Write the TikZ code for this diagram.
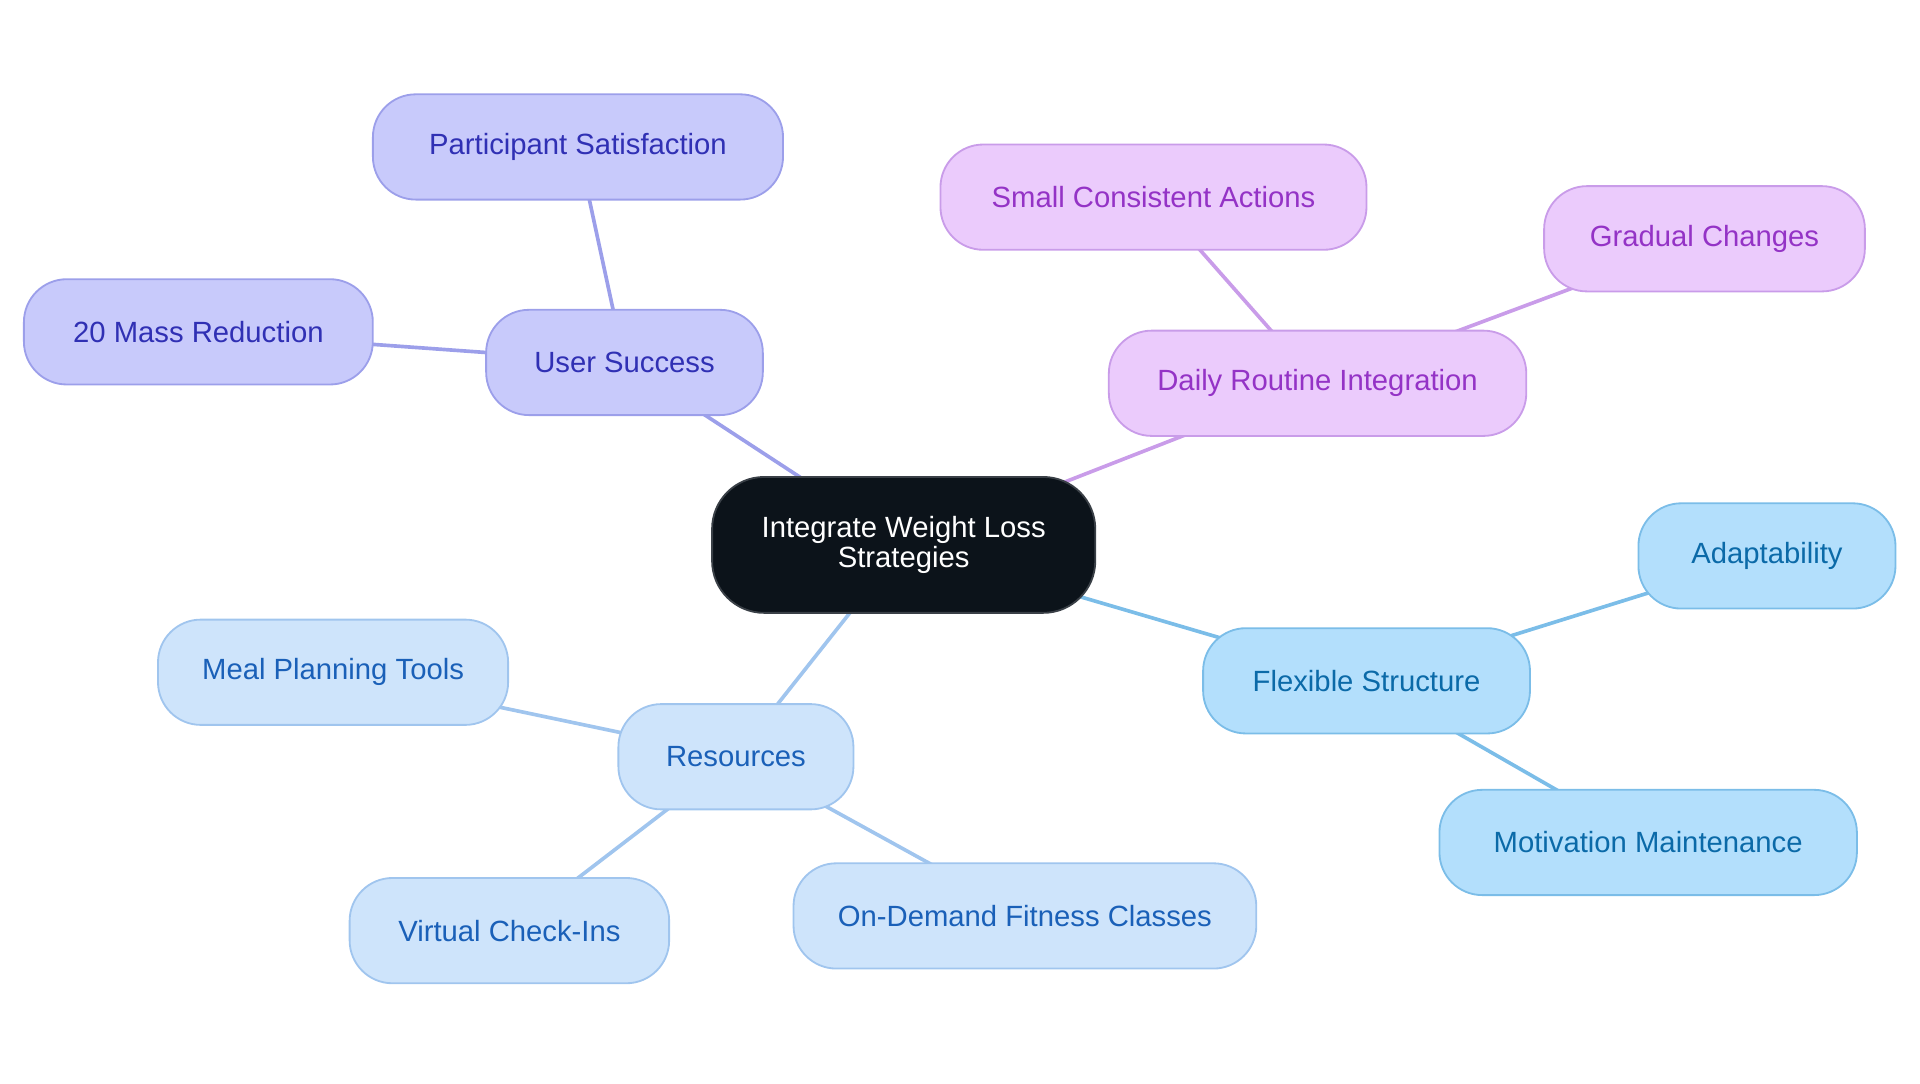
\documentclass[tikz,border=0pt]{standalone}
\usepackage{fontspec}
\setmainfont{Liberation Sans}
\usepackage{tikz}
\usetikzlibrary{backgrounds}

\definecolor{hubfill}{HTML}{0C131A}
\definecolor{hubline}{HTML}{3A4047}
\definecolor{succfill}{HTML}{C8CAFB}
\definecolor{succline}{HTML}{9C9FEA}
\definecolor{succtext}{HTML}{3030B4}
\definecolor{dailyfill}{HTML}{EBCBFC}
\definecolor{dailyline}{HTML}{C99CE9}
\definecolor{dailytext}{HTML}{9433C6}
\definecolor{flexfill}{HTML}{B3DFFC}
\definecolor{flexline}{HTML}{7BBDE8}
\definecolor{flextext}{HTML}{0B6AA8}
\definecolor{resfill}{HTML}{CEE4FB}
\definecolor{resline}{HTML}{A0C5EE}
\definecolor{restext}{HTML}{1A60B8}

\tikzset{
	topic/.style={draw, rounded corners=0.7cm, minimum height=1.72cm, line width=0.85pt, align=center, font=\fontsize{13.6}{14.2}\selectfont},
	hub/.style={topic, rounded corners=0.85cm, minimum height=2.22cm, fill=hubfill, draw=hubline, text=white},
	success/.style={topic, fill=succfill, draw=succline, text=succtext},
	daily/.style={topic, fill=dailyfill, draw=dailyline, text=dailytext},
	flex/.style={topic, fill=flexfill, draw=flexline, text=flextext},
	res/.style={topic, fill=resfill, draw=resline, text=restext},
	link/.style={line width=1.7pt}
}

\begin{document}
\begin{tikzpicture}[x=0.02cm,y=-0.02cm]
\useasboundingbox (0,0) rectangle (1568,884.5);
\node[hub, minimum width=6.26cm] (hub) at (738,445) {Integrate Weight Loss\\Strategies};

	\node[success, minimum width=4.52cm] (us) at (510,296) {User Success};
	\node[success, minimum width=6.7cm] (ps) at (472,120) {Participant Satisfaction};
	\node[success, minimum width=5.7cm] (mass) at (162,271) {20 Mass Reduction};

	\node[daily, minimum width=6.82cm] (dri) at (1076,313) {Daily Routine Integration};
	\node[daily, minimum width=6.96cm] (sca) at (942,161) {Small Consistent Actions};
	\node[daily, minimum width=5.24cm] (gc) at (1392,195) {Gradual Changes};

	\node[flex, minimum width=5.34cm] (fs) at (1116,556) {Flexible Structure};
	\node[flex, minimum width=4.2cm] (ad) at (1443,454) {Adaptability};
	\node[flex, minimum width=6.82cm] (mm) at (1346,688) {Motivation Maintenance};

	\node[res, minimum width=3.84cm] (res) at (601,618) {Resources};
	\node[res, minimum width=5.72cm] (mpt) at (272,549) {Meal Planning Tools};
	\node[res, minimum width=5.22cm] (vci) at (416,760) {Virtual Check-Ins};
	\node[res, minimum width=7.56cm] (odf) at (837,748) {On-Demand Fitness Classes};

\begin{scope}[on background layer]
	\draw[link, succline] (hub.center) -- (us.center);
	\draw[link, succline] (us.center) -- (ps.center);
	\draw[link, succline] (us.center) -- (mass.center);
	\draw[link, dailyline] (hub.center) -- (dri.center);
	\draw[link, dailyline] (dri.center) -- (sca.center);
	\draw[link, dailyline] (dri.center) -- (gc.center);
	\draw[link, flexline] (hub.center) -- (fs.center);
	\draw[link, flexline] (fs.center) -- (ad.center);
	\draw[link, flexline] (fs.center) -- (mm.center);
	\draw[link, resline] (hub.center) -- (res.center);
	\draw[link, resline] (res.center) -- (mpt.center);
	\draw[link, resline] (res.center) -- (vci.center);
	\draw[link, resline] (res.center) -- (odf.center);
\end{scope}
\end{tikzpicture}
\end{document}
